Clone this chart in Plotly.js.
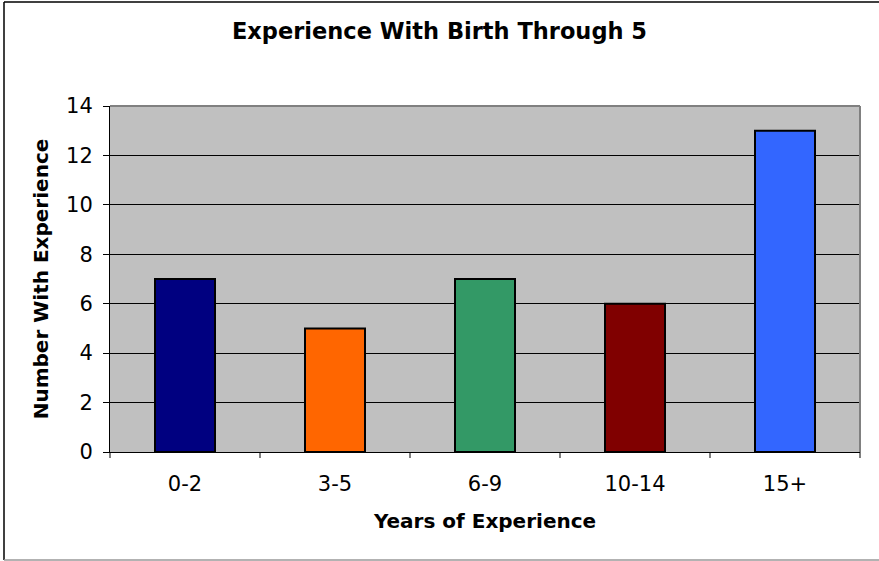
<!DOCTYPE html>
<html><head><meta charset="utf-8">
<script src="https://cdn.plot.ly/plotly-3.0.1.min.js"></script>
<style>html,body{margin:0;padding:0;background:#fff;}#c{width:879px;height:561px;}</style>
</head><body><div id="c"></div>
<script>
const categories = ["0-2", "3-5", "6-9", "10-14", "15+"];
const counts = [7, 5, 7, 6, 13];
const barColors = ["#000080", "#FF6600", "#339966", "#800000", "#3366FF"];
const yTicks = [0, 2, 4, 6, 8, 10, 12, 14];

const L = 110, R = 19, T = 106, B = 109;
const W = 879 - L - R, H = 561 - T - B;
const px = x => (x - L) / W;
const py = y => (561 - B - y) / H;

const font = "DejaVu Sans, Verdana, sans-serif";
const data = [{
  type: "bar", x: categories, y: counts,
  marker: {color: barColors, line: {color: "#000", width: 2}},
  hoverinfo: "none"
}];
const layout = {
  width: 879, height: 561,
  margin: {l: L, r: R, t: T, b: B},
  paper_bgcolor: "#fff", plot_bgcolor: "#C0C0C0",
  bargap: 0.6, showlegend: false,
  font: {family: font, color: "#000"},
  title: {text: "<b>Experience With Birth Through 5</b>", font: {size: 22.5, family: font},
          x: 0.5, xanchor: "center", y: 1 - 31/561, yanchor: "middle"},
  xaxis: {
    type: "category", tickvals: categories, ticktext: categories,
    showgrid: false, showline: true, linecolor: "#000", linewidth: 1,
    ticks: "", tickfont: {size: 21}, ticklabelstandoff: 13,
    title: {text: "<b>Years of Experience</b>", font: {size: 20}, standoff: 18},
    fixedrange: true
  },
  yaxis: {
    range: [0, 14], tickvals: yTicks, ticks: "outside", ticklen: 6, tickcolor: "#000",
    showgrid: true, gridcolor: "#000", gridwidth: 1, zeroline: false,
    showline: true, linecolor: "#000", linewidth: 1,
    tickfont: {size: 21}, ticklabelstandoff: 6,
    title: {text: "<b>Number With Experience</b>", font: {size: 20}, standoff: 12},
    fixedrange: true
  },
  shapes: [
    {type: "line", xref: "paper", yref: "paper", x0: 1, x1: 1, y0: 0, y1: 1, line: {color: "#808080", width: 2}},
    {type: "line", xref: "paper", yref: "paper", x0: 0, x1: 1, y0: 1, y1: 1, line: {color: "#808080", width: 2}},
    ...[0,1,2,3,4,5].map(i => ({type: "line", xref: "paper", yref: "paper",
      x0: i/5, x1: i/5, y0: 0, y1: py(458), line: {color: "#000", width: 1}})),
    {type: "line", xref: "paper", yref: "paper", x0: px(4), x1: px(4), y0: py(2), y1: py(560), line: {color: "#000", width: 1.5}},
    {type: "line", xref: "paper", yref: "paper", x0: px(4), x1: px(879), y0: py(2), y1: py(2), line: {color: "#000", width: 1.5}},
    {type: "line", xref: "paper", yref: "paper", x0: px(4), x1: px(879), y0: py(560), y1: py(560), line: {color: "#999", width: 1.5}}
  ]
};
Plotly.newPlot("c", data, layout, {displayModeBar: false, staticPlot: true});
</script></body></html>
